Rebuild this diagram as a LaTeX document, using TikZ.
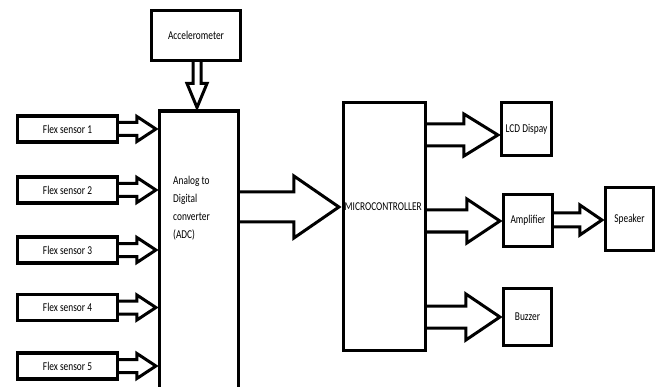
\documentclass[tikz,border=0pt]{standalone}
\usepackage{fontspec}
\setmainfont{Carlito}
\usetikzlibrary{calc}
\newcommand\sq[1]{\scalebox{0.78}[1]{#1}}
\tikzset{
  box/.style={draw, line width=3.2pt, inner sep=0pt, font=\fontsize{12}{14}\selectfont},
  lbl/.style={inner sep=0pt, font=\fontsize{12}{14}\selectfont},
  barrow/.style={draw, line width=3pt, line join=miter}
}
\newcommand\harrow[5]{\draw[barrow] ($(#1 |- #2)+(0,#3)$) -- ($(#2)+(-#5,#3)$) -- ($(#2)+(-#5,#4)$) -- (#2) -- ($(#2)+(-#5,-#4)$) -- ($(#2)+(-#5,-#3)$) -- ($(#1 |- #2)+(0,-#3)$);}
\newcommand\varrow[5]{\draw[barrow] ($(#2 |- #1)+(#3,0)$) -- ($(#2)+(#3,-#5)$) -- ($(#2)+(#4,-#5)$) -- (#2) -- ($(#2)+(-#4,-#5)$) -- ($(#2)+(-#3,-#5)$) -- ($(#2 |- #1)+(-#3,0)$);}
\begin{document}
\begin{tikzpicture}[x=1pt,y=-1pt]
\useasboundingbox (0,0) rectangle (655,387);
\clip (0,0) rectangle (655,387);
% boxes
\node[box, minimum width=89pt, minimum height=50pt] (acc) at (196,35.5) {\sq{Accelerometer}};
\node[box, minimum width=79pt, minimum height=300pt, anchor=north] (adc) at (199,109.5) {};
\node[lbl, anchor=north west, align=left, font=\fontsize{12}{18}\selectfont] (adcl) at (173,176) {\sq{Analog to}\\\sq{Digital}\\\sq{converter}\\\sq{(ADC)}};
\node[box, minimum width=100pt, minimum height=26pt] (f1) at (67.5,129) {\sq{Flex sensor 1}};
\node[box, minimum width=100pt, minimum height=26pt] (f2) at (67.5,190) {\sq{Flex sensor 2}};
\node[box, minimum width=100pt, minimum height=26pt] (f3) at (67.5,250) {\sq{Flex sensor 3}};
\node[box, minimum width=100pt, minimum height=26pt] (f4) at (67.5,307.5) {\sq{Flex sensor 4}};
\node[box, minimum width=100pt, minimum height=26pt] (f5) at (67.5,366) {\sq{Flex sensor 5}};
\node[box, minimum width=82pt, minimum height=248pt] (mc) at (384.5,226.5) {};
\node[lbl, anchor=west] (mcl) at (344.5,207) {\sq{MICROCONTROLLER}};
\node[box, minimum width=50pt, minimum height=53pt] (lcd) at (526.5,129) {\sq{LCD Dispay}};
\node[box, minimum width=49pt, minimum height=52pt] (amp) at (528,220.5) {\sq{Amplifier}};
\node[box, minimum width=48pt, minimum height=63pt] (spk) at (629.5,219) {\sq{Speaker}};
\node[box, minimum width=48pt, minimum height=57pt] (buz) at (527.5,317) {\sq{Buzzer}};
% arrow tips
\coordinate (ta) at ($(acc.south |- adc.north)+(1,-2)$);
\foreach \i in {1,...,5} {\coordinate (t\i) at ($(adc.west |- f\i.east)+(-2,0)$);}
\coordinate (tm) at ($(mc.west)+(-3,-19.5)$);
\coordinate (tl) at ($(lcd.west)+(-2,6)$);
\coordinate (tp) at ($(amp.west)+(-2,0.5)$);
\coordinate (tb) at ($(buz.west)+(-2,0)$);
\coordinate (ts) at ($(spk.west)+(-2,1)$);
% arrows
\varrow{acc.south}{ta}{4}{10}{24}
\harrow{f1.east}{t1}{6.5}{12.5}{19}
\harrow{f2.east}{t2}{6.5}{12.5}{19}
\harrow{f3.east}{t3}{6.5}{12.5}{19}
\harrow{f4.east}{t4}{6.5}{12.5}{19}
\harrow{f5.east}{t5}{6.5}{12.5}{19}
\harrow{adc.east}{tm}{15}{31}{45}
\harrow{mc.east}{tl}{11}{21}{34}
\harrow{mc.east}{tp}{11}{22}{33}
\harrow{mc.east}{tb}{11}{23}{34}
\harrow{amp.east}{ts}{7}{15}{22}
\end{tikzpicture}
\end{document}
